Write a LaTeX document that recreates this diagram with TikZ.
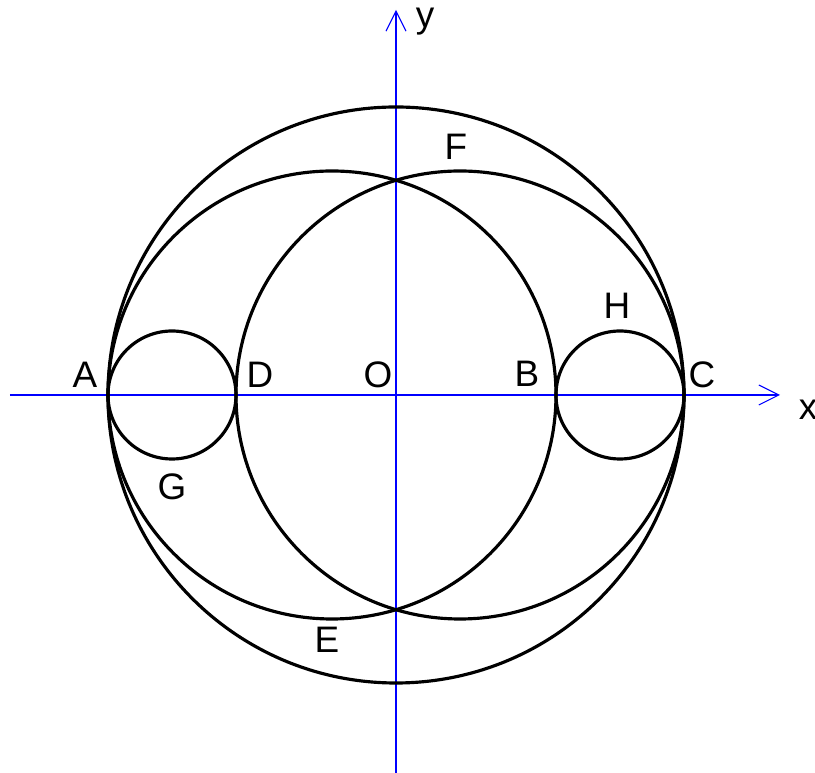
\documentclass[tikz,border=0pt]{standalone}
\usepackage{fontspec}
\setmainfont{Liberation Sans}
\usetikzlibrary{arrows.meta,positioning}

\begin{document}
\begin{tikzpicture}[
  x=0.02cm, y=0.02cm,
  circ/.style={draw, line width=1.8pt},
  axis/.style={draw=blue, line width=0.6pt, -{Straight Barb[length=0.4cm, width=0.4cm]}},
  lab/.style={inner sep=0pt, font=\fontsize{21}{21}\selectfont}
]
  \useasboundingbox (-396,-378) rectangle (419,395);

  % axes
  \coordinate (xl) at (-386,0);
  \coordinate (xr) at (384,0);
  \coordinate (yb) at (0,-378);
  \coordinate (yt) at (0,385);
  \draw[axis] (xl) -- (xr);
  \draw[axis] (yb) -- (yt);

  % circles
  \draw[circ] (0,0) circle (288);
  \draw[circ] (-64,0) circle (224);
  \draw[circ] (64,0) circle (224);
  \draw[circ] (-224,0) circle (64);
  \draw[circ] (224,0) circle (64);

  % labels
  \node[lab] (A) at (-311,20) {A};
  \node[lab] (D) at (-136,20) {D};
  \node[lab] (O) at (-18,20) {O};
  \node[lab] (B) at (131,21) {B};
  \node[lab] (C) at (306,20) {C};
  \node[lab] (F) at (60,248) {F};
  \node[lab] (H) at (221,89) {H};
  \node[lab] (G) at (-224,-92) {G};
  \node[lab] (E) at (-69,-245) {E};
  \node[lab] (xlab) at (412,-15) {x};
  \node[lab] (ylab) at (29,373) {y};
\end{tikzpicture}
\end{document}
